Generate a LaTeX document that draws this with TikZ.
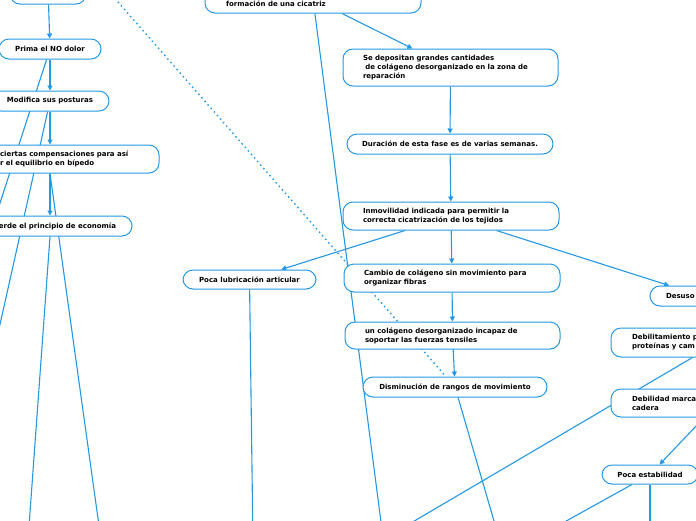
\documentclass[tikz,border=0pt]{standalone}
\usepackage{fontspec}
\setmainfont{DejaVu Sans}
\usetikzlibrary{arrows.meta}
\usetikzlibrary{positioning}
\definecolor{mapblue}{RGB}{36,152,229}
\newcommand{\mapfont}{\fontsize{7}{9}\selectfont\bfseries}
\pgfdeclarelayer{background}
\pgfsetlayers{background,main}

\begin{document}
\begin{tikzpicture}[x=1pt,y=-1pt,
  mapbox/.style={draw=mapblue,fill=white,line width=1pt,rounded corners=10pt,font=\mapfont,inner ysep=0pt},
  leftbox/.style={mapbox,align=left},
  conn/.style={draw=mapblue,line width=1.1pt},
  arr/.style={conn,-{Triangle[length=5pt,width=5pt]}}]
  \useasboundingbox (0,0) rectangle (696,520);

  % columna izquierda
  \node[mapbox,minimum width=76pt,minimum height=34pt] (origen) at (48,-13) {};
  \node[mapbox,minimum width=102pt,minimum height=20pt] (prima) at (50,49) {Prima el NO dolor};
  \node[mapbox,minimum width=118pt,minimum height=20pt] (modifica) at (50,101) {Modifica sus posturas};
  \node[leftbox,text width=139pt,inner xsep=20pt,minimum height=28pt] (compens) at (69.5,159)
    {ciertas compensaciones para así\\r el equilibrio en bípedo};
  \node[mapbox,minimum width=149pt,minimum height=20pt] (pierde) at (57.5,226) {erde el principio de economía};

  % columna central
  \node[leftbox,text width=174pt,inner xsep=21pt,minimum height=28pt,text height=16pt,text depth=2pt] (cicatriz) at (313,-1)
    {formación de una cicatriz};
  \node[leftbox,text width=175pt,inner xsep=20pt,minimum height=37pt] (deposit) at (450.5,67.5)
    {Se depositan grandes cantidades\\\ de colágeno desorganizado en la zona de\\reparación};
  \node[mapbox,minimum width=206pt,minimum height=20pt] (duracion) at (450,144)
    {Duración de esta fase es de varias semanas.};
  \node[leftbox,text width=176pt,inner xsep=20pt,minimum height=28pt] (inmov) at (451,216)
    {Inmovilidad indicada para permitir la\\correcta cicatrización de los tejidos};
  \node[leftbox,text width=176pt,inner xsep=20pt,minimum height=28pt] (cambio) at (452,278)
    {Cambio de colágeno sin movimiento para\\organizar fibras};
  \node[leftbox,text width=175pt,inner xsep=20pt,minimum height=27pt] (incapaz) at (452.5,335.5)
    {un colágeno desorganizado incapaz de\\soportar las fuerzas tensiles};
  \node[mapbox,minimum width=184pt,minimum height=20pt] (disminucion) at (455,387) {Disminución de rangos de movimiento};
  \node[mapbox,minimum width=133pt,minimum height=19pt] (lubric) at (249.5,279.5) {Poca lubricación articular};

  % columna derecha
  \node[leftbox,text width=72pt,inner xsep=16pt,minimum height=20pt] (desuso) at (702,296) {Desuso};
  \node[leftbox,text width=172pt,inner xsep=21pt,minimum height=29pt] (debilit) at (718,342.5)
    {Debilitamiento p\\proteínas y cam};
  \node[leftbox,text width=172pt,inner xsep=21pt,minimum height=28pt] (debilidad) at (718,403)
    {Debilidad marca\\cadera};
  \node[mapbox,minimum width=96pt,minimum height=19pt] (estabil) at (650,474.5) {Poca estabilidad};

  % extremos fuera del dibujo
  \coordinate (fueraA) at (-12,240);
  \coordinate (fueraB) at (-8,360);
  \coordinate (fueraC) at (101,540);
  \coordinate (fueraD) at (28,540);
  \coordinate (fueraE) at (384,545);
  \coordinate (fueraF) at (253,545);
  \coordinate (fueraG) at (501,545);
  \coordinate (fueraH) at (399,530);
  \coordinate (fueraI) at (550,530);
  \coordinate (fueraJ) at (650,540);
  \coordinate (fueraK) at (90,-30);

  \begin{pgfonlayer}{background}
    \draw[arr] (origen) -- (prima);
    \draw[arr] (prima) -- (modifica);
    \draw[arr] (modifica) -- (modifica |- compens.north);
    \draw[arr] (prima |- compens.south) -- (prima |- pierde.north);
    \draw[conn] (prima) -- (fueraA);
    \draw[conn] (modifica) -- (fueraB);
    \draw[conn] (prima |- compens.south) -- (fueraC);
    \draw[conn] (prima |- pierde.south) -- (fueraD);

    \draw[arr] (cicatriz) -- (deposit);
    \draw[conn] (cicatriz) -- (fueraE);
    \draw[arr] (deposit) -- (duracion);
    \draw[arr] (duracion) -- (inmov);
    \draw[arr] (inmov) -- (cambio);
    \draw[arr] (cambio) -- (incapaz);
    \draw[arr] (incapaz) -- (disminucion);
    \draw[arr] (inmov) -- (lubric);
    \draw[arr] (inmov) -- (desuso);
    \draw[conn] (lubric) -- (fueraF);
    \draw[conn] (disminucion) -- (fueraG);
    \draw[conn,line width=1.4pt,dash pattern=on 1.5pt off 3.2pt] (fueraK) -- (disminucion);

    \draw[conn] (debilit) -- (fueraH);
    \draw[arr] (debilidad) -- (estabil);
    \draw[conn] (estabil) -- (fueraI);
    \draw[conn] (estabil) -- (fueraJ);
  \end{pgfonlayer}
\end{tikzpicture}
\end{document}
